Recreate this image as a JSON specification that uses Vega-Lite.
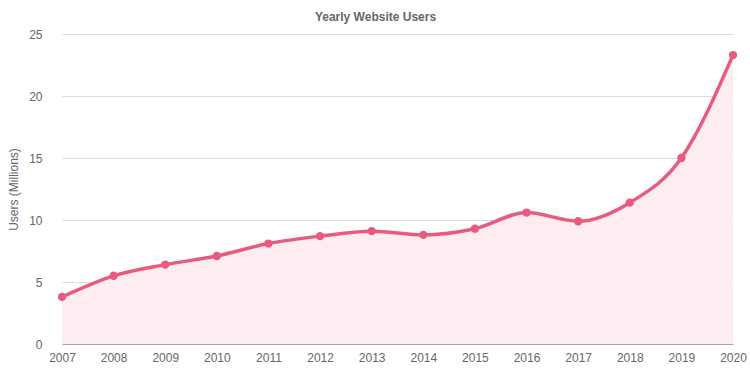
{
  "$schema": "https://vega.github.io/schema/vega-lite/v6.json",
  "width": 671,
  "height": 310,
  "autosize": "none",
  "padding": {"left": 62, "top": 34, "right": 17, "bottom": 31},
  "title": {"text": "Yearly Website Users", "fontSize": 12, "font": "Liberation Sans", "fontWeight": "bold", "color": "#666666", "anchor": "middle", "dx": -22, "offset": 4},
  "config": {"view": {"stroke": null}, "font": "Liberation Sans"},
  "data": {"values": [
    {"year": 2007, "users": 3.8},
    {"year": 2008, "users": 5.5},
    {"year": 2009, "users": 6.4},
    {"year": 2010, "users": 7.1},
    {"year": 2011, "users": 8.1},
    {"year": 2012, "users": 8.7},
    {"year": 2013, "users": 9.1},
    {"year": 2014, "users": 8.8},
    {"year": 2015, "users": 9.3},
    {"year": 2016, "users": 10.6},
    {"year": 2017, "users": 9.9},
    {"year": 2018, "users": 11.4},
    {"year": 2019, "users": 15.0},
    {"year": 2020, "users": 23.3}
  ]},
  "encoding": {
    "x": {"field": "year", "type": "quantitative", "scale": {"domain": [2007, 2020], "nice": false, "zero": false},
      "axis": {"title": null, "format": "d", "values": [2007,2008,2009,2010,2011,2012,2013,2014,2015,2016,2017,2018,2019,2020], "grid": false, "ticks": false, "labelFontSize": 12, "labelColor": "#666666", "labelPadding": 8, "domainColor": "#b8a0a6", "labelFlush": false}},
    "y": {"field": "users", "type": "quantitative", "scale": {"domain": [0, 25], "nice": false},
      "axis": {"title": "Users (Millions)", "titleFontSize": 12, "titleFontWeight": "normal", "titleColor": "#666666", "titlePadding": 8, "values": [0,5,10,15,20,25], "ticks": false, "domain": false, "labelFontSize": 12, "labelColor": "#666666", "labelPadding": 20, "gridColor": "#dddddd"}}
  },
  "layer": [
    {"mark": {"type": "area", "interpolate": "monotone", "color": "#fdecf0"}},
    {"mark": {"type": "line", "interpolate": "monotone", "color": "#ea5a7f", "strokeWidth": 3.5}},
    {"mark": {"type": "point", "filled": true, "color": "#ea5a7f", "size": 70, "opacity": 1}}
  ]
}
